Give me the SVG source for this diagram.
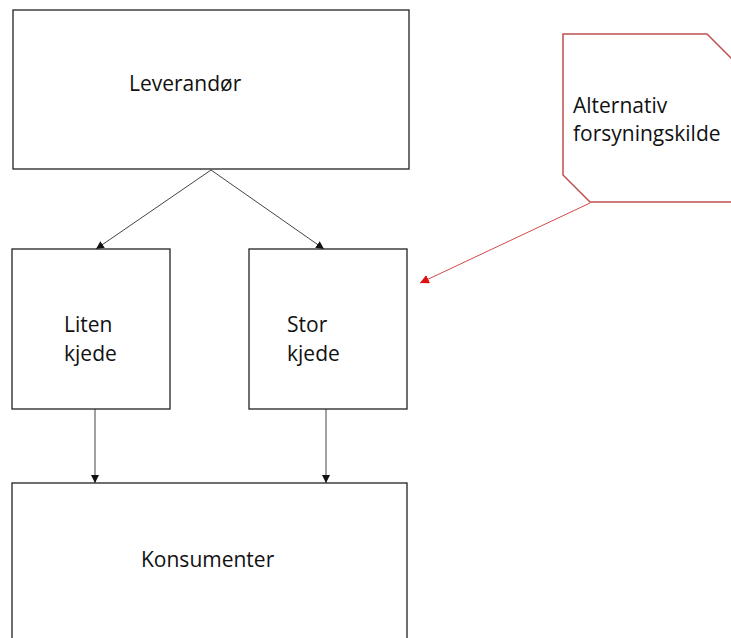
<svg xmlns="http://www.w3.org/2000/svg" width="731" height="638" viewBox="0 0 731 638">
<style>
.box{fill:#fff;stroke:#222;stroke-width:1.3}
.lbl{font-family:"Open Sans","Liberation Sans",sans-serif;font-size:21px;fill:#111}
.con{stroke:#444;stroke-width:1;fill:none}
.red{stroke:#d24a4a;stroke-width:1;fill:none}
</style>
<defs>
<marker id="ah" viewBox="0 0 10 10" refX="10" refY="5" markerWidth="8" markerHeight="8" markerUnits="userSpaceOnUse" orient="auto">
<path d="M0,0 L10,5 L0,10 Z" fill="#111"/>
</marker>
<marker id="ahr" viewBox="0 0 10 10" refX="10" refY="5" markerWidth="9" markerHeight="9" markerUnits="userSpaceOnUse" orient="auto">
<path d="M0,0 L10,5 L0,10 Z" fill="#e01010"/>
</marker>
</defs>
<rect width="731" height="638" fill="#fff"/>
<g id="connectors">
<line class="con" x1="211" y1="170" x2="96" y2="249" marker-end="url(#ah)"/>
<line class="con" x1="211" y1="170" x2="324" y2="249" marker-end="url(#ah)"/>
<line class="con" x1="95" y1="409" x2="95" y2="483" marker-end="url(#ah)"/>
<line class="con" x1="326" y1="409" x2="326" y2="483" marker-end="url(#ah)"/>
<line class="red" x1="590" y1="203" x2="420" y2="283" marker-end="url(#ahr)"/>
</g>
<g id="leverandor">
<rect class="box" x="13" y="10" width="396" height="159"/>
<text class="lbl" x="129" y="91">Leverandør</text>
</g>
<g id="liten">
<rect class="box" x="12" y="249" width="158" height="160"/>
<text class="lbl" x="64" y="332">Liten</text>
<text class="lbl" x="64" y="361">kjede</text>
</g>
<g id="stor">
<rect class="box" x="249" y="249" width="158" height="160"/>
<text class="lbl" x="287" y="332">Stor</text>
<text class="lbl" x="287" y="361">kjede</text>
</g>
<g id="konsumenter">
<rect class="box" x="12" y="483" width="395" height="170"/>
<text class="lbl" x="141" y="567">Konsumenter</text>
</g>
<g id="alternativ">
<polygon points="563,34 707,34 750,77 750,202 590,202 563,175" fill="#fff" stroke="#c0504d" stroke-width="1.5"/>
<text class="lbl" x="573" y="113">Alternativ</text>
<text class="lbl" x="573" y="141">forsyningskilde</text>
</g>
</svg>
